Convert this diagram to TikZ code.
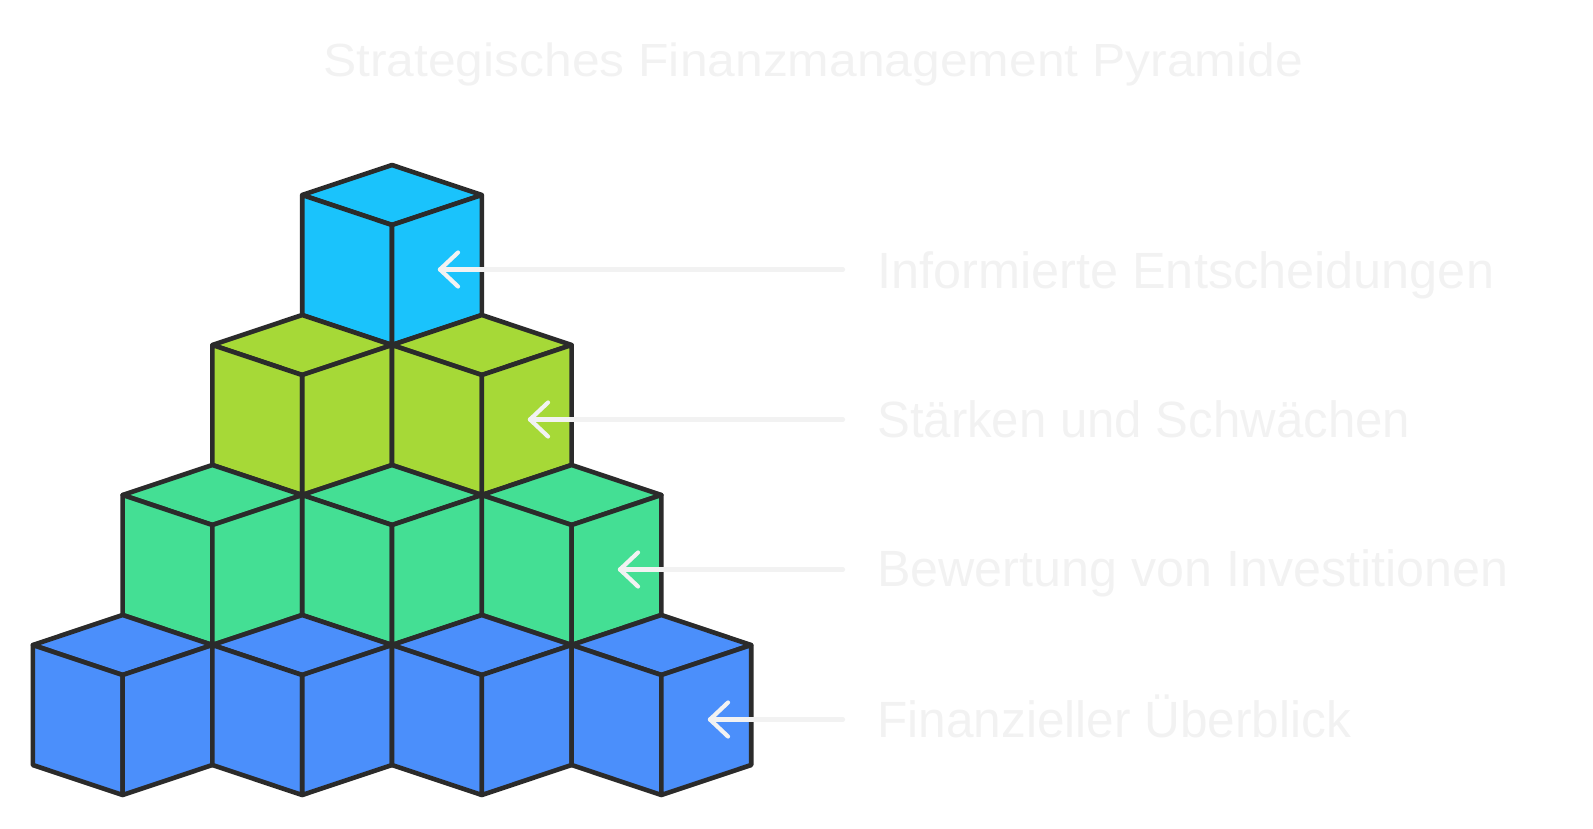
\documentclass[tikz,border=0pt]{standalone}
\usepackage{fontspec}
\setmainfont{Liberation Sans}
\usepackage{graphicx}
\definecolor{edge}{HTML}{2B2B2B}
\definecolor{txt}{HTML}{F2F2F2}
\definecolor{cyanb}{HTML}{1AC3FC}
\definecolor{lime}{HTML}{A6D937}
\definecolor{mint}{HTML}{44DF94}
\definecolor{royal}{HTML}{4B8FFB}
\newcommand{\fittext}[3]{\resizebox{#1pt}{\height}{\fontsize{#2pt}{#2pt}\selectfont #3}}
\tikzset{
  cubeline/.style={draw=edge, line width=4.6pt, line join=round},
  pics/cube/.style={code={
    \path[cubeline, fill=#1] (0,0) -- (89.8,30) -- (0,60) -- (-89.8,30) -- cycle;
    \path[cubeline, fill=#1] (-89.8,30) -- (0,60) -- (0,180) -- (-89.8,150) -- cycle;
    \path[cubeline, fill=#1] (0,60) -- (89.8,30) -- (89.8,150) -- (0,180) -- cycle;
  }},
  pointer/.style={draw=txt, line width=4.2pt, line cap=round, line join=round},
  lbl/.style={text=txt, inner sep=0pt, anchor=base west},
}
\begin{document}
\begin{tikzpicture}[x=1pt, y=-1pt]
\useasboundingbox (0,0) rectangle (1593,828);
% top row
\pic at (392,165) {cube=cyanb};
% second row
\foreach \x in {302.2,481.8} \pic at (\x,315) {cube=lime};
% third row
\foreach \x in {212.4,392,571.6} \pic at (\x,465) {cube=mint};
% bottom row
\foreach \x in {122.6,302.2,481.8,661.4} \pic at (\x,615) {cube=royal};

% title
\node[lbl, anchor=base] (title) at (813,76.7) {\fittext{980}{46.5}{Strategisches Finanzmanagement Pyramide}};

% labels
\node[lbl] (l1) at (877,288.3) {\fittext{617}{51}{Informierte Entscheidungen}};
\node[lbl] (l2) at (877,437.3) {\fittext{533}{51}{Stärken und Schwächen}};
\node[lbl] (l3) at (877,586.7) {\fittext{631}{51}{Bewertung von Investitionen}};
\node[lbl] (l4) at (877,737.3) {\fittext{474}{51}{Finanzieller Überblick}};

% arrows
\foreach \n/\tx/\ty in {1/440/269.5, 2/530/419.5, 3/620/569.5, 4/710/719.5}{
  \coordinate (s\n) at (843,\ty);
  \coordinate (t\n) at (\tx,\ty);
  \draw[pointer] (s\n) -- (t\n);
  \draw[pointer] ([shift={(18,-17)}]t\n) -- (t\n) -- ([shift={(18,17)}]t\n);
}
\end{tikzpicture}
\end{document}
